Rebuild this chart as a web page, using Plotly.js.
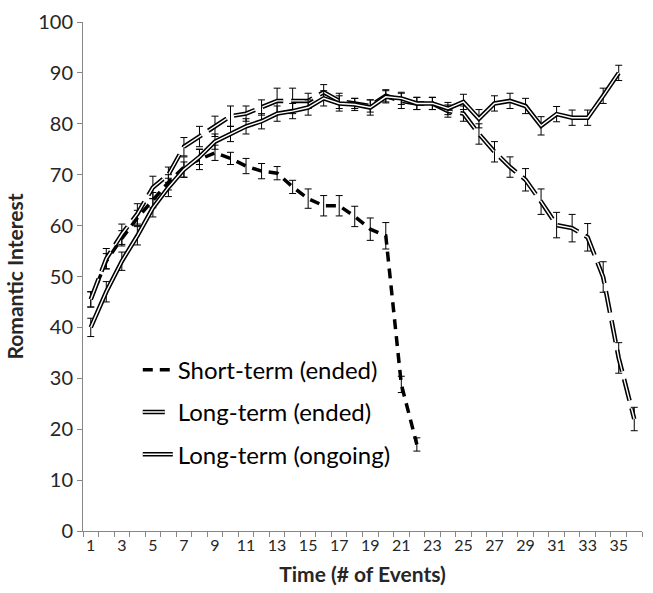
<!DOCTYPE html>
<html><head><meta charset="utf-8">
<script src="https://cdn.plot.ly/plotly-3.0.1.min.js"></script>
<style>html,body{margin:0;padding:0;background:#fff;} #chart{width:653px;height:593px;}</style>
</head><body><div id="chart"></div>
<script>
// ---- data ----
const eventsShort = [1,2,3,4,5,6,7,8,9,10,11,12,13,14,15,16,17,18,19,20,21,22];
const shortTerm   = [45.5,53,57.5,61.5,65,68.5,71.5,73,74.3,73.2,71.7,70.7,70.3,67.6,65.3,63.9,63.9,61.8,59.3,58.0,28.8,17.0];
const shortErr    = [1.5,1.5,1.5,1.5,1.5,1.5,2,2,1.5,1.2,1.5,1.5,1.3,1.3,1.9,2,2,2,2.2,2.6,1.6,1.3];

const eventsLongEnded = [1,2,3,4,5,6,7,8,9,10,11,12,13,14,15,16,17,18,19,20,21,22,23,24,25,26,27,28,29,30,31,32,33,34,35,36];
const longEnded   = [45.5,53.5,58.3,62.3,67.5,70,75.5,77.5,79.5,81.5,82,83.2,84.5,84.5,84.5,86.2,84.5,84,83.5,85.5,84.5,84,84,82.5,82,78,74.5,71.5,69,64.7,60.1,59.5,57.7,49.9,34,22];
const longEndedErr= [1.5,2,2,2,2.2,1.5,1.8,2,2,2,1.5,1.5,2.5,2.5,1.5,1.5,1.5,1,1.2,1.2,1.5,1.2,1.2,1.2,1.5,2,2,2,2.2,2.5,2.5,2.7,2.7,3,3,2.3];

const eventsOngoing = [1,2,3,4,5,6,7,8,9,10,11,12,13,14,15,16,17,18,19,20,21,22,23,24,25,26,27,28,29,30,31,32,33,34,35];
const longOngoing = [40,47,53,58,63.5,67.5,71,73.5,76.5,78,79.5,80.5,82,82.5,83.2,85,84,83.8,83.2,85.3,85,84,84,83,84.3,81,84,84.5,83.5,79.6,81.9,81.2,81.2,85.5,90];
const ongoingErr  = [1.8,2,1.8,1.8,1.8,1.8,1.5,1.5,1.5,1.5,1.5,1.5,1.5,1.5,1.5,1.5,1.5,1.2,1.5,1.2,1.2,1.2,1.2,1.2,1.5,1.8,1.5,1.5,1.5,1.8,1.5,1.5,1.5,1.5,1.5];

const xTickLabels = ['1','3','5','7','9','11','13','15','17','19','21','23','25','27','29','31','33','35'];
const seriesNames = ['Short-term (ended)','Long-term (ended)','Long-term (ongoing)'];

const FONT = 'Lato, "Open Sans", sans-serif';

function errBar(arr){
  return {type:'data', array:arr, visible:true, color:'#000', thickness:1, width:3.5};
}

const traces = [
  {x:eventsShort, y:shortTerm, mode:'lines', name:seriesNames[0], legendgroup:'a',
   line:{color:'#000', width:3.5, dash:'10px,7px'}, error_y:errBar(shortErr)},
  {x:eventsLongEnded, y:longEnded, mode:'lines', name:seriesNames[1], legendgroup:'b',
   line:{color:'#000', width:4.5, dash:'22px,8px'}, error_y:errBar(longEndedErr)},
  {x:eventsLongEnded, y:longEnded, mode:'lines', showlegend:false, hoverinfo:'skip', legendgroup:'b',
   line:{color:'#fff', width:1.4, dash:'22px,8px'}},
  {x:eventsOngoing, y:longOngoing, mode:'lines', name:seriesNames[2], legendgroup:'c',
   line:{color:'#000', width:4.5}, error_y:errBar(ongoingErr)},
  {x:eventsOngoing, y:longOngoing, mode:'lines', showlegend:false, hoverinfo:'skip', legendgroup:'c',
   line:{color:'#fff', width:1.4}}
];

const oddTicks = xTickLabels.map(Number);

const layout = {
  width:653, height:593,
  margin:{l:83, r:11, t:22, b:62},
  paper_bgcolor:'#fff', plot_bgcolor:'#fff',
  font:{family:FONT, color:'#262626'},
  showlegend:true,
  legend:{x:0.098, y:0.36, xanchor:'left', yanchor:'top', bgcolor:'rgba(0,0,0,0)',
          font:{family:FONT, size:24, color:'#000'}, tracegroupgap:8, traceorder:'grouped'},
  xaxis:{range:[0.5,36.5], tickmode:'array', tickvals:oddTicks, ticktext:xTickLabels,
         ticks:'', showline:true, linecolor:'#868686', linewidth:1, showgrid:false, zeroline:false,
         tickfont:{size:16, color:'#262626'},
         minor:{tick0:0.5, dtick:1, ticks:'outside', ticklen:5, tickcolor:'#868686', showgrid:false},
         title:{text:'<b>Time (# of Events)</b>', font:{size:21, color:'#262626'}, standoff:14}},
  yaxis:{range:[0,100], dtick:10, ticks:'outside', ticklen:5, tickcolor:'#868686',
         showline:true, linecolor:'#868686', linewidth:1, showgrid:false, zeroline:false,
         tickfont:{size:20, color:'#262626'},
         title:{text:'<b>Romantic Interest</b>', font:{size:21, color:'#262626'}, standoff:8}}
};

Plotly.newPlot('chart', traces, layout, {displayModeBar:false, staticPlot:true}).then(function(gd){
  // draw double-line legend samples (white inner stroke) for long-term series
  const items = gd.querySelectorAll('.legend .traces');
  items.forEach(function(item, i){
    if (i === 0) return;
    const p = item.querySelector('path.js-line');
    if (!p) return;
    const c = p.cloneNode(true);
    c.style.stroke = '#fff';
    c.style.strokeWidth = '1.4px';
    p.parentNode.appendChild(c);
  });
});
</script>
</body></html>
